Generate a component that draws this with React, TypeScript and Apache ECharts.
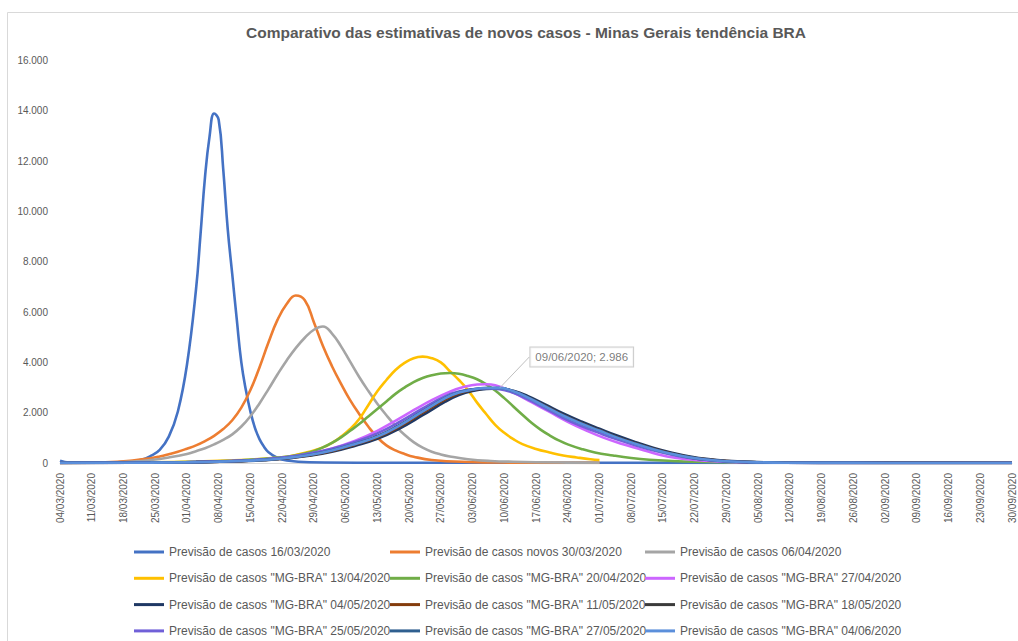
import React, { useEffect, useRef } from "react";
import * as echarts from "echarts";

// Weekly tick labels (x axis = day index from 04/03/2020, one tick every 7 days)
const tickLabels = [
  "04/03/2020", "11/03/2020", "18/03/2020", "25/03/2020", "01/04/2020", "08/04/2020",
  "15/04/2020", "22/04/2020", "29/04/2020", "06/05/2020", "13/05/2020", "20/05/2020",
  "27/05/2020", "03/06/2020", "10/06/2020", "17/06/2020", "24/06/2020", "01/07/2020",
  "08/07/2020", "15/07/2020", "22/07/2020", "29/07/2020", "05/08/2020", "12/08/2020",
  "19/08/2020", "26/08/2020", "02/09/2020", "09/09/2020", "16/09/2020", "23/09/2020",
  "30/09/2020",
];

// [day index, new cases]
const prev1603: number[][] = [
  [0, 90], [2, 20], [10, 20], [15, 50], [18, 130], [20, 280], [22, 520], [24, 1050], [26, 2050],
  [28, 3900], [30, 6900], [31, 9100], [32, 11400], [33, 13000], [34, 13900], [35, 13650],
  [36, 11700], [37, 9300], [38, 7500], [39, 5700], [40, 4000], [41, 2900], [42, 2050],
  [43, 1400], [44, 950], [45, 650], [46, 430], [48, 200], [50, 100], [55, 30], [70, 10], [210, 5],
];
const prev3003: number[][] = [
  [0, 5], [10, 30], [16, 100], [20, 190], [22, 260], [24, 350], [26, 450], [28, 570], [30, 700],
  [32, 870], [34, 1080], [36, 1350], [38, 1700], [40, 2200], [42, 2900], [44, 3800], [46, 4800],
  [48, 5700], [50, 6320], [52, 6660], [54, 6470], [56, 5600], [58, 4650], [60, 3850], [62, 3150],
  [64, 2500], [66, 1950], [68, 1450], [70, 1020], [72, 700], [74, 500], [76, 360], [78, 250],
  [82, 120], [90, 40], [100, 15], [119, 5],
];
const prev0604: number[][] = [
  [0, 5], [10, 20], [16, 60], [20, 120], [24, 220], [28, 360], [30, 470], [32, 590], [34, 740],
  [36, 920], [38, 1140], [40, 1450], [42, 1860], [44, 2370], [46, 2940], [48, 3530], [50, 4080],
  [52, 4570], [54, 4980], [56, 5300], [58, 5430], [60, 5150], [62, 4640], [64, 4030], [66, 3420],
  [68, 2870], [70, 2360], [72, 1900], [74, 1480], [76, 1120], [78, 830], [80, 610], [82, 450],
  [84, 340], [86, 260], [90, 150], [95, 80], [100, 50], [110, 20], [119, 10],
];
const mg1304: number[][] = [
  [0, 5], [10, 10], [20, 25], [30, 60], [40, 120], [45, 170], [50, 250], [52, 320], [55, 450],
  [58, 620], [60, 800], [62, 1050], [64, 1350], [66, 1750], [68, 2300], [70, 2850], [72, 3300],
  [74, 3700], [76, 3980], [78, 4170], [80, 4230], [82, 4170], [84, 4000], [86, 3650], [88, 3300],
  [90, 2900], [92, 2400], [94, 1950], [96, 1520], [98, 1200], [100, 950], [102, 750], [105, 560],
  [108, 420], [111, 300], [114, 220], [117, 150], [119, 120],
];
const mg2004: number[][] = [
  [0, 5], [20, 20], [30, 50], [40, 110], [50, 250], [55, 420], [58, 620], [60, 800], [62, 1020],
  [64, 1280], [66, 1550], [68, 1850], [70, 2150], [72, 2450], [74, 2750], [76, 3000], [78, 3220],
  [80, 3380], [82, 3490], [84, 3560], [86, 3580], [88, 3550], [90, 3460], [92, 3330], [94, 3130],
  [96, 2880], [98, 2580], [100, 2250], [102, 1920], [104, 1600], [106, 1330], [108, 1100],
  [110, 900], [112, 740], [115, 560], [118, 420], [122, 300], [126, 200], [130, 130], [135, 80],
  [140, 50], [150, 25], [160, 15], [180, 5], [210, 2],
];
const mg2704: number[][] = [
  [0, 5], [20, 15], [30, 40], [40, 90], [45, 140], [50, 220], [55, 370], [60, 580], [65, 880],
  [70, 1280], [75, 1780], [78, 2100], [82, 2500], [86, 2840], [89, 3020], [92, 3120], [94, 3130],
  [96, 3090], [100, 2800], [104, 2420], [108, 2030], [112, 1640], [116, 1300], [120, 1000],
  [124, 760], [128, 550], [132, 340], [136, 200], [140, 120], [145, 65], [150, 35], [160, 12],
  [175, 4], [210, 1],
];
const mg0405: number[][] = [
  [0, 4], [20, 12], [30, 30], [40, 70], [45, 110], [50, 178], [55, 285], [60, 445], [65, 680],
  [70, 960], [75, 1380], [80, 1900], [85, 2440], [88, 2700], [91, 2860], [94, 2940], [97, 2960],
  [100, 2870], [103, 2680], [107, 2330], [111, 1970], [115, 1650], [119, 1360], [123, 1080],
  [127, 830], [131, 600], [135, 410], [139, 260], [143, 155], [147, 88], [152, 45], [160, 15],
  [175, 5], [210, 1],
];
const mg1105: number[][] = [
  [0, 5], [20, 14], [30, 33], [40, 76], [45, 120], [50, 195], [55, 310], [60, 480], [65, 730],
  [70, 1020], [75, 1460], [80, 2000], [85, 2530], [88, 2760], [91, 2900], [94, 2960], [97, 2970],
  [100, 2850], [103, 2630], [107, 2270], [111, 1900], [115, 1580], [119, 1300], [123, 1020],
  [127, 780], [131, 560], [135, 375], [139, 230], [143, 140], [147, 75], [152, 38], [160, 13],
  [175, 4], [210, 1],
];
const mg1805: number[][] = [
  [0, 5], [20, 15], [30, 36], [40, 82], [45, 128], [50, 205], [55, 330], [60, 510], [65, 770],
  [70, 1070], [75, 1520], [80, 2070], [85, 2590], [88, 2800], [91, 2910], [94, 2960], [97, 2960],
  [100, 2830], [103, 2600], [107, 2240], [111, 1870], [115, 1550], [119, 1270], [123, 990],
  [127, 750], [131, 530], [135, 350], [139, 215], [143, 125], [147, 68], [152, 34], [160, 12],
  [175, 4], [210, 1],
];
const mg2505: number[][] = [
  [0, 6], [20, 18], [30, 42], [40, 95], [45, 148], [50, 235], [55, 375], [60, 570], [65, 840],
  [70, 1180], [75, 1640], [80, 2170], [85, 2660], [88, 2840], [91, 2935], [94, 2965], [97, 2935],
  [100, 2790], [103, 2550], [107, 2170], [111, 1790], [115, 1470], [119, 1190], [123, 930],
  [127, 700], [131, 495], [135, 330], [139, 200], [143, 115], [147, 62], [152, 30], [160, 10],
  [175, 3], [210, 1],
];
const mg2705: number[][] = [
  [0, 5], [20, 15], [30, 35], [40, 80], [45, 126], [50, 202], [55, 325], [60, 505], [65, 760],
  [70, 1060], [75, 1510], [80, 2060], [85, 2590], [88, 2810], [91, 2930], [94, 2985], [97, 2980],
  [100, 2850], [103, 2630], [107, 2260], [111, 1890], [115, 1570], [119, 1290], [123, 1010],
  [127, 770], [131, 550], [135, 365], [139, 225], [143, 132], [147, 72], [152, 36], [160, 12],
  [175, 4], [210, 1],
];
const mg0406: number[][] = [
  [0, 5], [20, 15], [30, 35], [40, 80], [45, 125], [50, 200], [55, 320], [60, 500], [65, 750],
  [70, 1050], [75, 1500], [80, 2050], [85, 2580], [88, 2800], [91, 2920], [94, 2980], [97, 2986],
  [100, 2850], [103, 2620], [107, 2250], [111, 1880], [115, 1560], [119, 1280], [123, 1000],
  [127, 760], [131, 540], [135, 360], [139, 220], [143, 130], [147, 70], [152, 35], [160, 12],
  [175, 4], [210, 1],
];

const seriesNames = [
  "Previsão de casos 16/03/2020",
  "Previsão de casos novos 30/03/2020",
  "Previsão de casos 06/04/2020",
  'Previsão de casos "MG-BRA" 13/04/2020',
  'Previsão de casos "MG-BRA" 20/04/2020',
  'Previsão de casos "MG-BRA" 27/04/2020',
  'Previsão de casos "MG-BRA" 04/05/2020',
  'Previsão de casos "MG-BRA" 11/05/2020',
  'Previsão de casos "MG-BRA" 18/05/2020',
  'Previsão de casos "MG-BRA" 25/05/2020',
  'Previsão de casos "MG-BRA" 27/05/2020',
  'Previsão de casos "MG-BRA" 04/06/2020',
];
const seriesData = [
  prev1603, prev3003, prev0604, mg1304, mg2004, mg2704,
  mg0405, mg1105, mg1805, mg2505, mg2705, mg0406,
];
const seriesColors = [
  "#4472C4", "#ED7D31", "#A5A5A5", "#FFC000", "#70AD47", "#CC66FF",
  "#1F3864", "#843C0C", "#3B3B3B", "#7060D8", "#2F5F8F", "#5B8FDB",
];

const annotationDate = "09/06/2020";
const annotationDay = 97;
const annotationValue = 2986;

const fmt = (v: number) => String(v).replace(/\B(?=(\d{3})+(?!\d))/g, ".");

export default function App() {
  const ref = useRef<HTMLDivElement>(null);
  useEffect(() => {
    if (!ref.current) return;
    const chart = echarts.init(ref.current, undefined, { renderer: "svg" });
    const font = "'Liberation Sans', Arial, sans-serif";
    const txt = "#595959";
    const legendCol = (idx: number[], left: number) => ({
      orient: "vertical" as const,
      left,
      top: 545,
      padding: 0,
      height: 96,
      itemWidth: 30,
      itemHeight: 3,
      itemGap: 12.3,
      icon: "rect",
      data: idx.map((i) => seriesNames[i]),
      textStyle: { color: txt, fontSize: 12, fontFamily: font, lineHeight: 14 },
    });
    chart.setOption({
      animation: false,
      backgroundColor: "#ffffff",
      textStyle: { fontFamily: font },
      title: {
        text: "Comparativo das estimativas de novos casos - Minas Gerais tendência BRA",
        left: 521,
        top: 19,
        textAlign: "center",
        textStyle: { color: txt, fontSize: 15.5, fontWeight: "bold", fontFamily: font },
      },
      graphic: [
        {
          type: "rect",
          shape: { x: 7.5, y: 12.5, width: 1100, height: 700 },
          style: { fill: "none", stroke: "#d9d9d9", lineWidth: 1 },
          silent: true,
          z: -1,
        },
      ],
      legend: [
        legendCol([0, 3, 6, 9], 134),
        legendCol([1, 4, 7, 10], 390),
        legendCol([2, 5, 8, 11], 645),
      ],
      grid: { left: 60, right: 6, top: 60.7, bottom: 178, containLabel: false },
      xAxis: {
        type: "value",
        min: 0,
        max: 210,
        interval: 7,
        axisLine: { show: true, lineStyle: { color: "#d9d9d9", width: 1 } },
        axisTick: { show: false },
        splitLine: { show: false },
        axisLabel: {
          rotate: 90,
          margin: 10,
          color: txt,
          fontSize: 10,
          fontFamily: font,
          showMinLabel: true,
          showMaxLabel: true,
          formatter: (v: number) => tickLabels[Math.round(v / 7)] ?? "",
        },
      },
      yAxis: {
        type: "value",
        min: 0,
        max: 16000,
        interval: 2000,
        axisLine: { show: false },
        axisTick: { show: false },
        splitLine: { show: false },
        axisLabel: {
          margin: 12,
          color: txt,
          fontSize: 10,
          fontFamily: font,
          formatter: (v: number) => fmt(v),
        },
      },
      series: [
        ...seriesNames.map((name, i) => ({
          name,
          type: "line",
          data: seriesData[i],
          smooth: 0.45,
          showSymbol: false,
          symbol: "none",
          color: seriesColors[i],
          lineStyle: { color: seriesColors[i], width: 2.6 },
          emphasis: { disabled: true },
        })),
        {
          name: "annotation",
          type: "scatter",
          data: [[annotationDay, annotationValue]],
          symbolSize: 1,
          itemStyle: { color: "rgba(0,0,0,0)" },
          silent: true,
          z: 10,
          label: {
            show: true,
            position: "inside",
            formatter: `${annotationDate}; ${fmt(annotationValue)}`,
            color: txt,
            fontSize: 11.5,
            fontFamily: font,
            backgroundColor: "#ffffff",
            borderColor: "#bfbfbf",
            borderWidth: 1,
            padding: [4, 5, 3, 5],
          },
          labelLayout: { dx: 82, dy: -31 },
          labelLine: { show: true, lineStyle: { color: "#bfbfbf", width: 1 } },
        },
      ],
    });
    return () => chart.dispose();
  }, []);
  return (
    <div
      ref={ref}
      style={{ position: "fixed", left: 0, top: 0, width: 1018, height: 641, background: "#fff" }}
    />
  );
}
